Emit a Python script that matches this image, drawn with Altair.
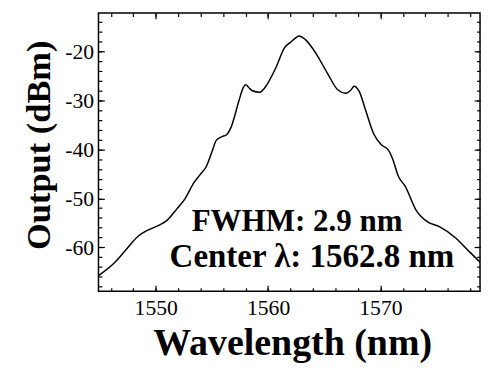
import altair as alt
import pandas as pd

# Spectrum
wavelength = [1544.9, 1546.35, 1547.5, 1548.4, 1549.3, 1550.2, 1551.0, 1551.9, 1552.6, 1553.4,
              1554.0, 1554.5, 1555.0, 1555.4, 1555.9, 1556.3, 1556.7, 1557.4, 1557.8, 1558.0,
              1558.3, 1558.6, 1559.25, 1559.8, 1560.65, 1561.5, 1562.0, 1562.4, 1562.75, 1563.3,
              1564.3, 1565.3, 1566.2, 1566.9, 1567.4, 1567.65, 1568.1, 1568.7, 1569.4, 1570.1,
              1570.7, 1571.1, 1571.6, 1572.2, 1573.2, 1574.2, 1575.25, 1576.7, 1578.0, 1578.9]
output_dbm = [-65.8, -63.1, -60.1, -57.8, -56.5, -55.6, -54.5, -52.1, -50.1, -46.8,
              -45.0, -43.5, -40.5, -38.1, -37.4, -37.0, -35.5, -30.1, -27.3, -26.8,
              -27.4, -28.0, -28.3, -27.1, -23.5, -19.1, -18.1, -17.3, -16.8, -17.5,
              -20.5, -24.5, -27.8, -28.5, -27.8, -27.1, -28.1, -32.1, -36.8, -39.1,
              -40.1, -42.0, -45.5, -47.5, -52.5, -54.8, -55.8, -58.1, -61.1, -63.1]

x_major = [1550, 1560, 1570]
x_minor = [1546, 1548, 1550, 1552, 1554, 1556, 1558, 1560, 1562, 1564, 1566, 1568,
           1570, 1572, 1574, 1576, 1578]
y_major = [-60, -50, -40, -30, -20]
y_minor = [-68, -66, -64, -62, -60, -58, -56, -54, -52, -50, -48, -46, -44, -42, -40,
           -38, -36, -34, -32, -30, -28, -26, -24, -22, -20, -18, -16, -14]

ann_text = ["FWHM: 2.9 nm", "Center λ: 1562.8 nm"]
ann_x = [1562.58, 1563.9]
ann_y = [-56.7, -64.1]
ann_size = [31.5, 33.5]

x_domain = [1544.9, 1578.87]
y_domain = [-69.0, -12.1]

df = pd.DataFrame({"wavelength": wavelength, "power": output_dbm})
ann = pd.DataFrame({"text": ann_text, "wavelength": ann_x, "power": ann_y, "size": ann_size})

FONT = "Liberation Serif"
xs = alt.Scale(domain=x_domain, nice=False, zero=False)
ys = alt.Scale(domain=y_domain, nice=False, zero=False)
HYPHEN = "replace(datum.label, '\u2212', '-')"

base = alt.Chart(df)

main = base.mark_line(color="black", strokeWidth=1.5, clip=True, interpolate="monotone").encode(
    x=alt.X("wavelength:Q", scale=xs,
            axis=alt.Axis(orient="bottom", values=x_major, format="d", ticks=False, tickSize=0,
                          domain=False, grid=False, labelFont=FONT, labelFontSize=22,
                          labelColor="black", labelPadding=7,
                          title="Wavelength (nm)", titleFont=FONT, titleFontSize=38.5,
                          titleFontWeight="bold", titleColor="black",
                          titleBaseline="alphabetic", titleY=64, titleX=197)),
    y=alt.Y("power:Q", scale=ys,
            axis=alt.Axis(orient="left", values=y_major, format="d", ticks=False, tickSize=0,
                          labelExpr=HYPHEN,
                          domain=False, grid=False, labelFont=FONT, labelFontSize=22,
                          labelColor="black", labelPadding=5,
                          title="Output (dBm)", titleFont=FONT, titleFontSize=35,
                          titleFontWeight="bold", titleColor="black",
                          titleBaseline="alphabetic", titleX=-50, titleY=134)),
)


def tick_layer(xo, yo, xv, yv, size):
    return base.mark_point(opacity=0).encode(
        x=alt.X("wavelength:Q", scale=xs,
                axis=alt.Axis(orient=xo, values=xv, tickSize=size, offset=-size, labels=False,
                              domain=False, grid=False, title=None, tickColor="black",
                              tickWidth=1.2)),
        y=alt.Y("power:Q", scale=ys,
                axis=alt.Axis(orient=yo, values=yv, tickSize=size, offset=-size, labels=False,
                              domain=False, grid=False, title=None, tickColor="black",
                              tickWidth=1.2)),
    )


t1 = tick_layer("bottom", "left", x_major, y_major, 6)
t2 = tick_layer("bottom", "left", x_minor, y_minor, 3.5)
t3 = tick_layer("top", "right", x_major, y_major, 6)
t4 = tick_layer("top", "right", x_minor, y_minor, 3.5)

labels = alt.Chart(ann).mark_text(font=FONT, fontWeight="bold", color="black",
                                  align="center", baseline="alphabetic").encode(
    x=alt.X("wavelength:Q", scale=xs, axis=None),
    y=alt.Y("power:Q", scale=ys, axis=None),
    size=alt.Size("size:Q", scale=None, legend=None),
    text="text:N",
)

chart = alt.layer(main, t1, t2, t3, t4, labels).resolve_axis(
    x="independent", y="independent"
).properties(
    width=388, height=283,
    autosize=alt.AutoSizeParams(type="none"),
    padding={"left": 92, "top": 2, "right": 2, "bottom": 75},
    background="white",
).configure_view(stroke="black", strokeWidth=1.5).configure_axis(
    labelFont=FONT, titleFont=FONT
).configure_text(font=FONT)

chart.save("out.html", embed_options={"renderer": "svg", "actions": False})
